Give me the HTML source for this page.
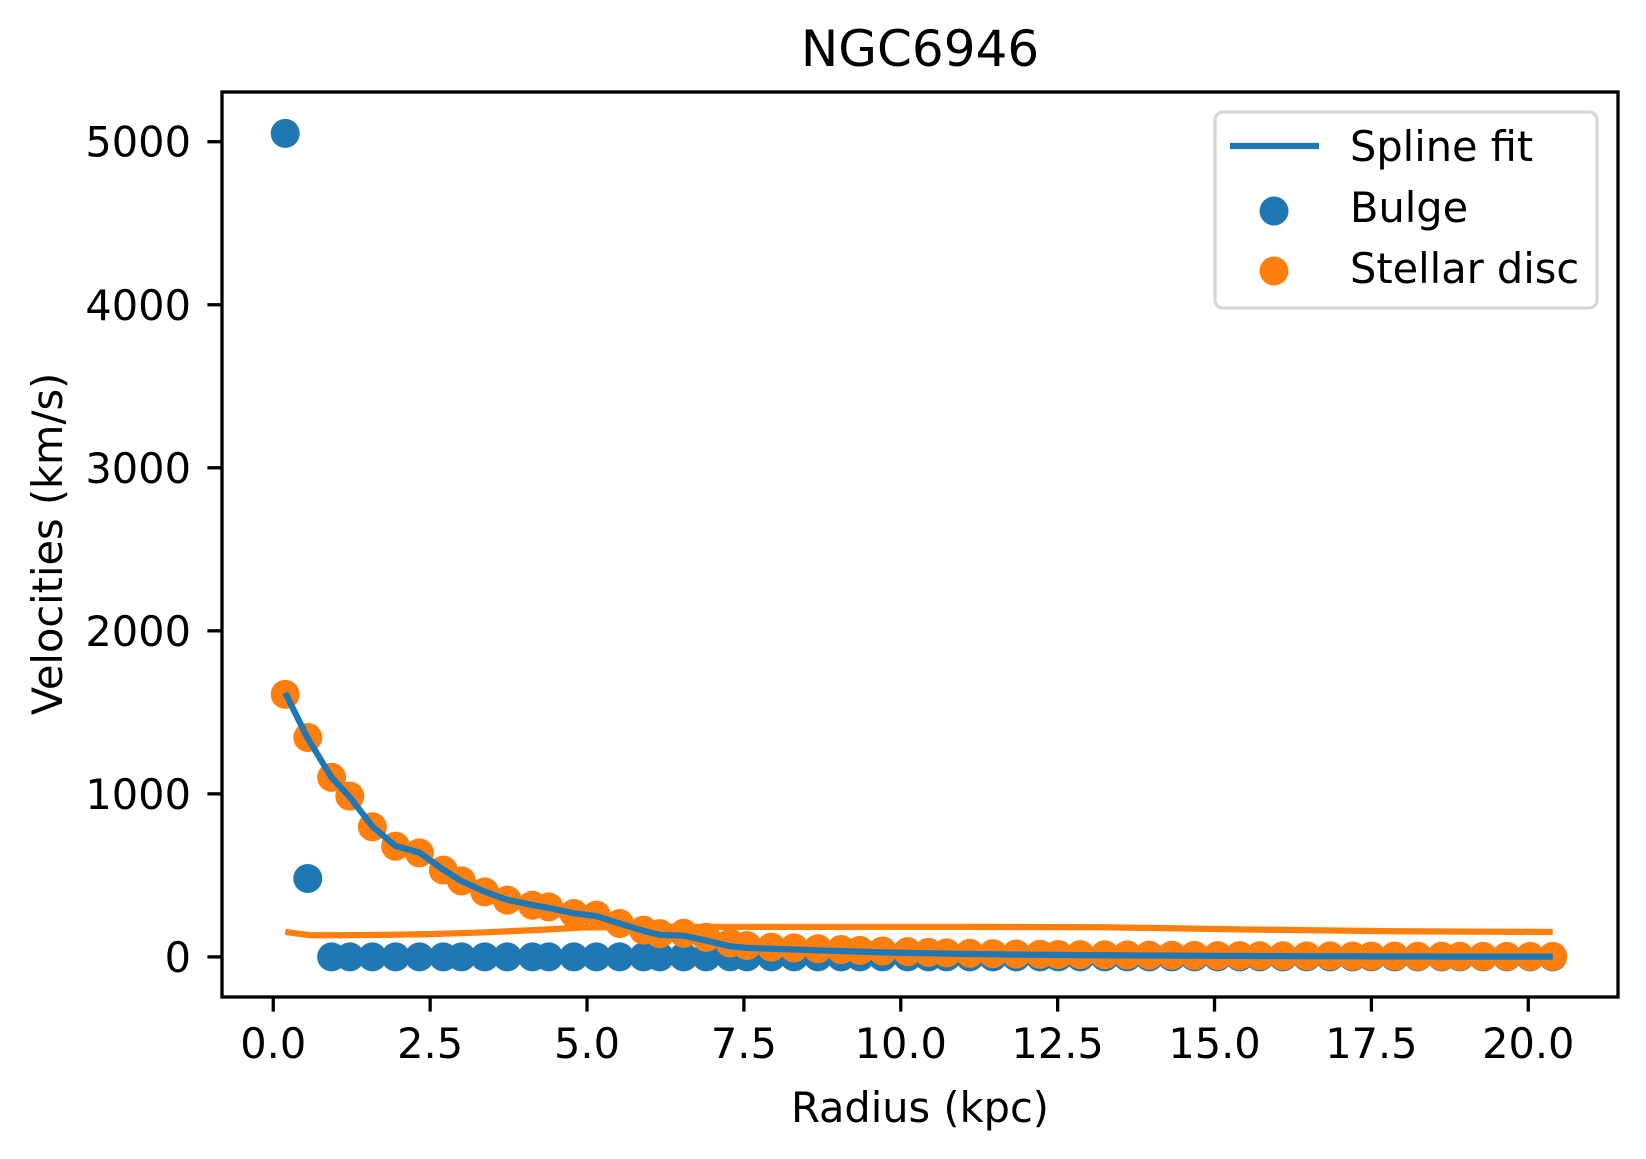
<!DOCTYPE html>
<html><head><meta charset="utf-8"><style>
html,body{margin:0;padding:0;background:#fff;}
svg text{font-family:"DejaVu Sans","Liberation Sans",sans-serif;}
</style></head><body>
<svg id="chart" width="1646" height="1154" viewBox="0 0 1646 1154" xmlns="http://www.w3.org/2000/svg">
<rect width="1646" height="1154" fill="#fff"/>
<text x="920" y="66" font-size="50" text-anchor="middle">NGC6946</text>
<text x="920" y="1122" font-size="41.5" text-anchor="middle">Radius (kpc)</text>
<text transform="translate(62,544) rotate(-90)" font-size="41.5" text-anchor="middle">Velocities (km/s)</text>
<g id="plot"></g>
<g id="axes"></g>
<g>
<rect x="1215" y="112" width="382" height="196" rx="8" fill="#fff" fill-opacity="0.8" stroke="#d6d6d6" stroke-width="3.3"/>
<line x1="1230" y1="146" x2="1319" y2="146" stroke="#1f77b4" stroke-width="6.25"/>
<text x="1350" y="161" font-size="41.5">Spline fit</text>
<circle cx="1274" cy="211" r="14.5" fill="#1f77b4"/>
<text x="1350" y="222" font-size="41.5">Bulge</text>
<circle cx="1274" cy="271" r="14.5" fill="#ff7f0e"/>
<text x="1350" y="283" font-size="41.5">Stellar disc</text>
</g>
</svg>
<script>
const radii = [0.19,0.55,0.93,1.22,1.58,1.95,2.33,2.71,3.0,3.37,3.73,4.13,4.39,4.79,5.15,5.52,5.9,6.16,6.54,6.9,7.28,7.55,7.94,8.3,8.68,9.05,9.35,9.71,10.11,10.44,10.73,11.1,11.47,11.84,12.22,12.51,12.86,13.25,13.61,13.96,14.32,14.68,15.05,15.4,15.72,16.09,16.47,16.84,17.2,17.5,17.87,18.24,18.62,18.91,19.28,19.66,20.03,20.39];
const bulge = [5051,481,0,0,0,0,0,0,0,0,0,0,0,0,0,0,0,0,0,0,0,0,0,0,0,0,0,0,0,0,0,0,0,0,0,0,0,0,0,0,0,0,0,0,0,0,0,0,0,0,0,0,0,0,0,0,0,0];
const disc = [1610,1346,1101,986,798,679,638,532,466,399,348,317,307,266,256,205,164,143,145,120,85,70,60,55,50,45,40,36,32,28,25,22,20,18,16,15,14,13,12,11,10,9,8,8,7,7,6,6,5,5,5,4,4,4,3,3,3,3];
const spline = [1620,1340,1100,980,800,680,640,535,465,400,350,318,300,268,250,205,160,135,130,100,65,55,50,45,40,36,32,28,25,22,20,18,16,14,13,12,11,10,9,8,8,7,6,6,5,5,4,4,4,3,3,3,2,2,2,2,2,2];
const gasR = [0.19,0.58,1.0,1.75,2.5,3.34,4.2,4.93,6.0,8.0,11.05,13.2,14.3,15.5,17.7,20.39];
const gasV = [153,133,133,135,140,150,165,180,184,184,184,182,176,168,158,153];
const xTicks = [0,2.5,5,7.5,10,12.5,15,17.5,20];
const xTickLabels = ["0.0","2.5","5.0","7.5","10.0","12.5","15.0","17.5","20.0"];
const yTicks = [0,1000,2000,3000,4000,5000];
const yTickLabels = ["0","1000","2000","3000","4000","5000"];

const L=222,R=1618,T=92,B=997;
const xMin=-0.817,xMax=21.43,yMin=-246,yMax=5305;
const xs=v=>L+(v-xMin)/(xMax-xMin)*(R-L);
const ys=v=>B-(v-yMin)/(yMax-yMin)*(B-T);
const NS="http://www.w3.org/2000/svg";
const plot=document.getElementById('plot'), axes=document.getElementById('axes');
function mk(tag,parent,attrs){const e=document.createElementNS(NS,tag);for(const k in attrs)e.setAttribute(k,attrs[k]);parent.appendChild(e);return e;}

const cp=mk('clipPath',plot,{id:'clip'});mk('rect',cp,{x:L,y:T,width:R-L,height:B-T});
const g=mk('g',plot,{'clip-path':'url(#clip)'});

radii.forEach((r,i)=>{const c=mk('circle',g,{cx:xs(r),cy:ys(bulge[i]),r:14.5,fill:'#1f77b4'});

});
radii.forEach((r,i)=>{const c=mk('circle',g,{cx:xs(r),cy:ys(disc[i]),r:14.5,fill:'#ff7f0e'});

});
const gl=mk('polyline',g,{points:gasR.map((r,i)=>xs(r)+','+ys(gasV[i])).join(' '),fill:'none',stroke:'#ff7f0e','stroke-width':6.25,'stroke-linejoin':'round'});


const sl=mk('polyline',g,{points:radii.map((r,i)=>xs(r)+','+ys(spline[i])).join(' '),fill:'none',stroke:'#1f77b4','stroke-width':6.25,'stroke-linejoin':'round'});



xTicks.forEach((t,i)=>{const x=xs(t);
const tl=mk('line',axes,{x1:x,y1:B,x2:x,y2:B+14.6,stroke:'#000','stroke-width':3.3});


const tx=mk('text',axes,{x:x,y:1058,'font-size':41.5,'text-anchor':'middle'});tx.textContent=xTickLabels[i];

});
yTicks.forEach((t,i)=>{const y=ys(t);
const tl=mk('line',axes,{x1:L-14.6,y1:y,x2:L,y2:y,stroke:'#000','stroke-width':3.3});


const tx=mk('text',axes,{x:191,y:y+15,'font-size':41.5,'text-anchor':'end'});tx.textContent=yTickLabels[i];

});
const fr=mk('rect',axes,{x:L,y:T,width:R-L,height:B-T,fill:'none',stroke:'#000','stroke-width':3.3});


</script>
</body></html>
